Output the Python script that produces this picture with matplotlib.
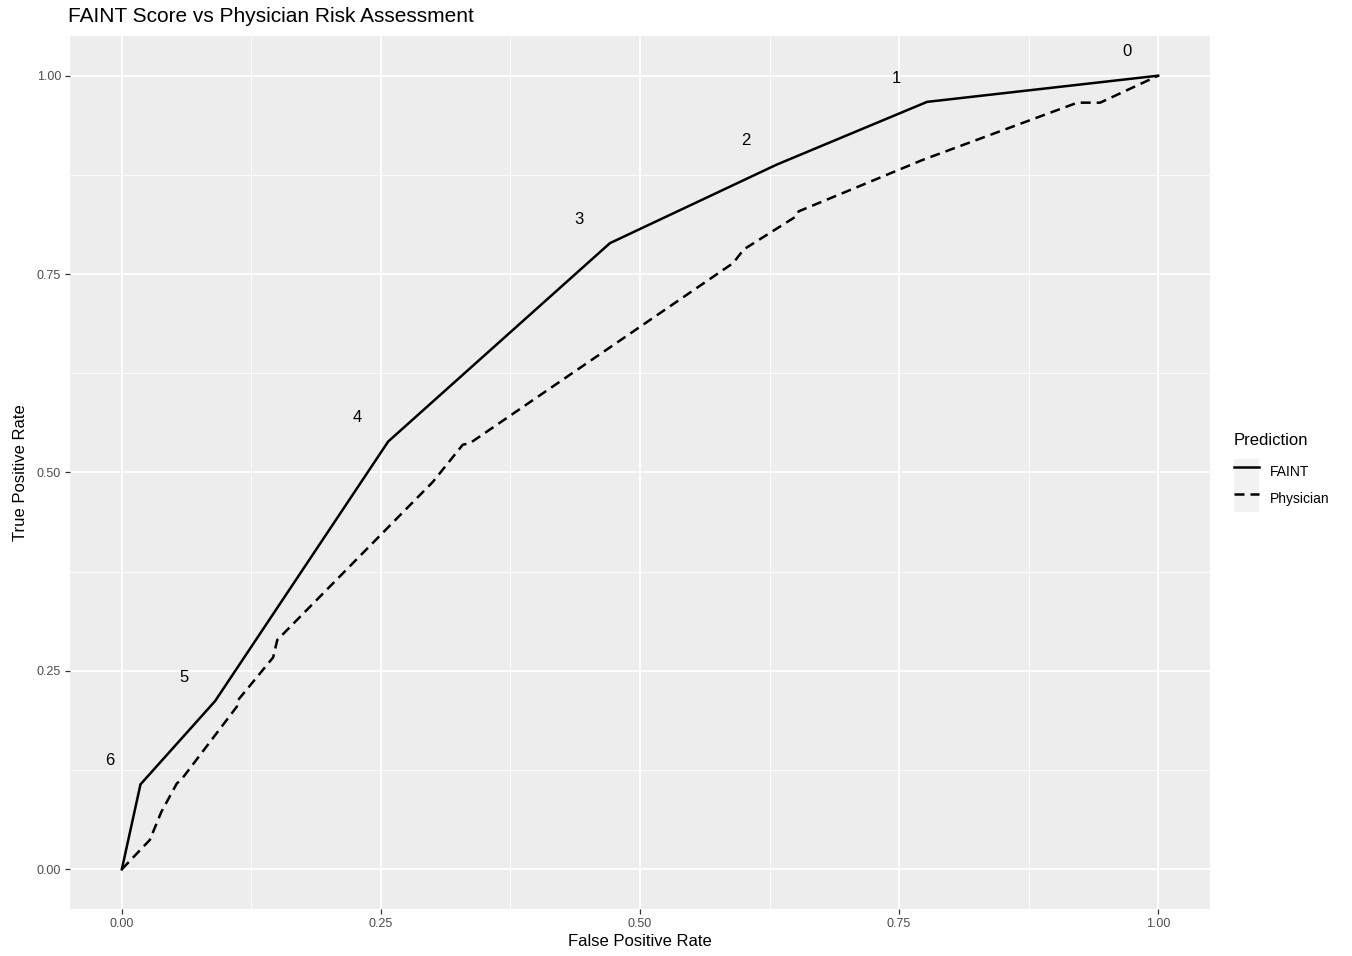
import numpy as np
import matplotlib
matplotlib.use("Agg")
import matplotlib.pyplot as plt
from matplotlib.patches import Patch
from matplotlib.legend_handler import HandlerTuple

plt.rcParams['font.family'] = ['Liberation Sans', 'DejaVu Sans']

# ROC points
faint_fpr = [0.0, 0.018, 0.090, 0.257, 0.471, 0.632, 0.777, 1.0]
faint_tpr = [0.0, 0.107, 0.212, 0.539, 0.789, 0.888, 0.967, 1.0]
faint_score = ["", "6", "5", "4", "3", "2", "1", "0"]

phys_fpr = [0.0, 0.027, 0.038, 0.053, 0.058, 0.111, 0.112, 0.146, 0.150,
            0.300, 0.329, 0.336, 0.590, 0.600, 0.651, 0.653, 0.773,
            0.922, 0.944, 1.0]
phys_tpr = [0.0, 0.037, 0.072, 0.108, 0.114, 0.205, 0.213, 0.267, 0.289,
            0.488, 0.535, 0.537, 0.764, 0.781, 0.823, 0.829, 0.894,
            0.966, 0.966, 1.0]

ticks = [0.0, 0.25, 0.5, 0.75, 1.0]
tick_labels = ["0.00", "0.25", "0.50", "0.75", "1.00"]
minor_ticks = [0.125, 0.375, 0.625, 0.875]

fig = plt.figure(figsize=(13.52, 9.56), dpi=100)
ax = fig.add_axes([70 / 1352, 1 - 909 / 956, (1210 - 70) / 1352, (909 - 36) / 956])
ax.set_facecolor("#EDEDED")
for s in ax.spines.values():
    s.set_visible(False)

ax.set_xlim(-0.05, 1.05)
ax.set_ylim(-0.05, 1.05)
ax.set_xticks(ticks)
ax.set_xticklabels(tick_labels)
ax.set_yticks(ticks)
ax.set_yticklabels(tick_labels)
ax.set_xticks(minor_ticks, minor=True)
ax.set_yticks(minor_ticks, minor=True)
ax.grid(which="major", color="white", linewidth=1.3)
ax.grid(which="minor", color="white", linewidth=0.6)
ax.set_axisbelow(True)
ax.tick_params(which="major", length=3.5, width=0.9, color="#333333",
               labelsize=9, labelcolor="#4D4D4D", pad=3)
ax.tick_params(which="minor", length=0)

l1, = ax.plot(faint_fpr, faint_tpr, color="black", linewidth=1.8,
              solid_joinstyle="miter")
l2, = ax.plot(phys_fpr, phys_tpr, color="black", linewidth=1.8,
              linestyle=(0, (4, 2.4)))

for x, y, s in zip(faint_fpr, faint_tpr, faint_score):
    ax.text(x - 0.03, y + 0.03, s, fontsize=12, ha="center", va="center")

ax.set_xlabel("False Positive Rate", fontsize=12, labelpad=3)
ax.set_ylabel("True Positive Rate", fontsize=12, labelpad=6)
fig.text(68 / 1352, 1 - 17 / 956, "FAINT Score vs Physician Risk Assessment",
         fontsize=15, ha="left", va="center")

key_bg = dict(facecolor="#F2F2F2", edgecolor="none")
leg = ax.legend([(Patch(**key_bg), l1), (Patch(**key_bg), l2)], ["FAINT", "Physician"],
                handler_map={tuple: HandlerTuple(ndivide=1, pad=0)},
                title="Prediction", loc="center left", bbox_to_anchor=(1.01, 0.5),
                frameon=False, fontsize=10, title_fontsize=12,
                handlelength=1.8, handleheight=2.6, handletextpad=0.8,
                labelspacing=0.0, borderaxespad=0.5)
leg._legend_box.align = "left"
leg._legend_box.sep = 8

fig.savefig("out.png", dpi=100, facecolor="white")
